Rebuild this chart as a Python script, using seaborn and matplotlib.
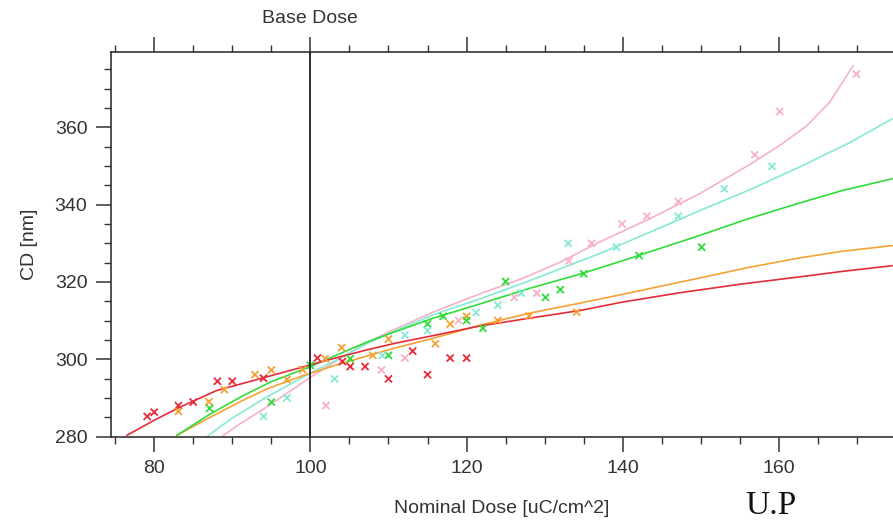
import numpy as np
import pandas as pd
import matplotlib
matplotlib.use("Agg")
import matplotlib.pyplot as plt
import seaborn as sns
from matplotlib.ticker import MultipleLocator
import matplotlib.transforms as mtransforms

# measured points (dose in uC/cm^2, CD in nm)
red_dose = [79.1, 80.0, 83.1, 85.0, 88.1, 90.0, 94.0, 100.9, 104.1, 105.1, 107.0, 110.0, 113.1, 115.0, 117.9, 120.0]
red_cd = [285.2, 286.3, 288.0, 288.9, 294.3, 294.3, 295.1, 300.3, 299.4, 298.1, 298.1, 294.9, 302.1, 296.0, 300.3, 300.3]

orange_dose = [83.1, 87.0, 89.0, 92.9, 95.0, 97.0, 99.0, 101.9, 104.0, 108.0, 110.0, 116.0, 117.9, 120.0, 124.0, 128.0, 134.1]
orange_cd = [286.5, 289.0, 292.1, 296.0, 297.2, 294.7, 297.3, 300.1, 303.0, 301.0, 305.2, 304.0, 309.1, 311.1, 310.0, 311.2, 312.2]

green_dose = [87.1, 95.0, 100.0, 105.1, 110.0, 115.0, 117.0, 120.0, 122.1, 125.0, 130.1, 132.0, 135.0, 142.1, 150.1]
green_cd = [287.3, 288.9, 298.4, 300.1, 301.0, 309.1, 311.1, 310.0, 308.0, 320.1, 316.0, 318.0, 322.1, 326.8, 329.0]

cyan_dose = [94.0, 97.0, 103.1, 109.2, 112.1, 115.0, 121.2, 124.0, 127.0, 133.0, 139.2, 147.1, 153.0, 159.1]
cyan_cd = [285.2, 290.0, 294.9, 301.0, 306.2, 307.4, 312.1, 314.0, 317.1, 330.0, 329.0, 337.0, 344.1, 349.9]

pink_dose = [102.0, 109.1, 112.1, 119.0, 126.1, 129.0, 133.1, 136.0, 139.9, 143.1, 147.1, 156.9, 160.1, 169.9]
pink_cd = [288.0, 297.2, 300.3, 310.0, 316.0, 317.1, 325.4, 330.0, 335.0, 337.0, 340.8, 352.9, 364.1, 373.8]

# fitted curves
red_fit_dose = [76.5, 80, 83.1, 88, 94, 98.7, 103, 107.2, 111, 115.7, 121.7, 128, 134.5, 140, 147.3, 155, 162.6, 168, 174.5]
red_fit_cd = [280.3, 284.2, 287.4, 291.9, 295.2, 297.8, 300.2, 302.4, 304.2, 306.1, 308.6, 310.6, 312.6, 314.8, 317.2, 319.4, 321.3, 322.7, 324.2]

orange_fit_dose = [82.9, 87, 91, 94.4, 98.7, 103, 107.2, 111, 115.7, 121.7, 128, 134.5, 140, 149.8, 156, 162.6, 168, 174.5]
orange_fit_cd = [280.3, 284.8, 289.0, 292.3, 295.5, 298.3, 300.8, 303.0, 305.4, 308.8, 311.9, 314.5, 316.8, 321.0, 323.7, 326.2, 327.9, 329.4]

green_fit_dose = [82.9, 87, 91.4, 95, 100, 103.5, 107.2, 110, 115.7, 121.7, 128, 134.5, 140, 149.8, 156, 162.6, 168, 174.5]
green_fit_cd = [280.3, 285.6, 290.6, 294.2, 298.1, 301.2, 304.4, 306.5, 310.6, 314.3, 318.3, 322.0, 325.5, 332.0, 336.3, 340.4, 343.6, 346.7]

cyan_fit_dose = [86.9, 90, 94.4, 100, 103.5, 107.2, 110, 115.7, 121.7, 127, 132, 137, 143.4, 149.8, 156.2, 162.6, 169, 174.5]
cyan_fit_cd = [280.2, 284.8, 290.2, 296.4, 300.0, 304.0, 306.6, 311.5, 315.6, 319.5, 323.4, 327.3, 332.8, 338.4, 343.8, 349.7, 356.0, 362.2]

pink_fit_dose = [88.8, 91, 94.4, 100, 103.5, 107.2, 110, 115.7, 121.7, 127, 132, 137, 143.4, 149.8, 156.2, 160, 163.5, 166.5, 169.5]
pink_fit_cd = [280.2, 283.3, 287.6, 295.3, 299.8, 304.3, 307.0, 312.2, 316.9, 320.8, 325.1, 330.3, 336.3, 342.8, 350.3, 355.2, 360.3, 366.5, 376.0]

base_dose = 100

palette = {
    "red": "#e52b3a",
    "orange": "#f4a234",
    "green": "#2fdc3a",
    "cyan": "#86e9d6",
    "pink": "#f6b2c4",
}

points = pd.concat([
    pd.DataFrame({"dose": red_dose, "cd": red_cd, "series": "red"}),
    pd.DataFrame({"dose": orange_dose, "cd": orange_cd, "series": "orange"}),
    pd.DataFrame({"dose": green_dose, "cd": green_cd, "series": "green"}),
    pd.DataFrame({"dose": cyan_dose, "cd": cyan_cd, "series": "cyan"}),
    pd.DataFrame({"dose": pink_dose, "cd": pink_cd, "series": "pink"}),
], ignore_index=True)

fits = pd.concat([
    pd.DataFrame({"dose": pink_fit_dose, "cd": pink_fit_cd, "series": "pink"}),
    pd.DataFrame({"dose": cyan_fit_dose, "cd": cyan_fit_cd, "series": "cyan"}),
    pd.DataFrame({"dose": orange_fit_dose, "cd": orange_fit_cd, "series": "orange"}),
    pd.DataFrame({"dose": green_fit_dose, "cd": green_fit_cd, "series": "green"}),
    pd.DataFrame({"dose": red_fit_dose, "cd": red_fit_cd, "series": "red"}),
], ignore_index=True)

sns.set_theme(style="white")
plt.rcParams['font.family'] = ['Liberation Sans', 'DejaVu Sans']

W, H = 893, 523
fig = plt.figure(figsize=(W / 100, H / 100), dpi=100)
ax = fig.add_axes([111 / W, 1 - 436.5 / H, (W - 111) / W, (436.5 - 52) / H])

sns.lineplot(data=fits, x="dose", y="cd", hue="series", palette=palette,
             estimator=None, sort=False, units="series", linewidth=1.2,
             legend=False, ax=ax)
sns.scatterplot(data=points, x="dose", y="cd", hue="series", palette=palette,
                marker="x", s=26, linewidth=1.3, legend=False, ax=ax, zorder=3)

ax.axvline(base_dose, color="#1a1a1a", lw=1.3, zorder=4)

ax.set_xlim(74.47, 174.6)
ax.set_ylim(280, 379.5)

ax.xaxis.set_major_locator(MultipleLocator(20))
ax.xaxis.set_minor_locator(MultipleLocator(5))
ax.yaxis.set_major_locator(MultipleLocator(20))
ax.yaxis.set_minor_locator(MultipleLocator(5))

ax.tick_params(axis="x", which="both", top=True, bottom=True, labeltop=False,
               direction="out", colors="#333333", labelcolor="#333333")
ax.tick_params(axis="y", which="both", left=True, right=False,
               direction="out", colors="#333333", labelcolor="#333333")
ax.tick_params(which="major", length=11, width=1.1, labelsize=14, pad=6)
ax.tick_params(which="minor", length=5, width=1.0)

for side in ["left", "bottom", "top"]:
    ax.spines[side].set_color("#333333")
    ax.spines[side].set_linewidth(1.2)
ax.spines["right"].set_visible(False)

ax.set_xlabel("Nominal Dose [uC/cm^2]", fontsize=14, color="#333333")
ax.set_ylabel("CD [nm]", fontsize=14, color="#333333")
ax.xaxis.set_label_coords(0.5, -0.165)
ax.yaxis.set_label_coords(-0.093, 0.5)

trans = mtransforms.blended_transform_factory(ax.transData, ax.transAxes)
ax.text(base_dose, 1.087, "Base Dose", transform=trans, ha="center", va="center",
        fontsize=14, color="#333333")

fig.text(745 / W, 2 / H, "U.P", family="Liberation Serif", fontsize=24,
         color="#111111", va="bottom", ha="left")

fig.savefig("out.png", dpi=100)
